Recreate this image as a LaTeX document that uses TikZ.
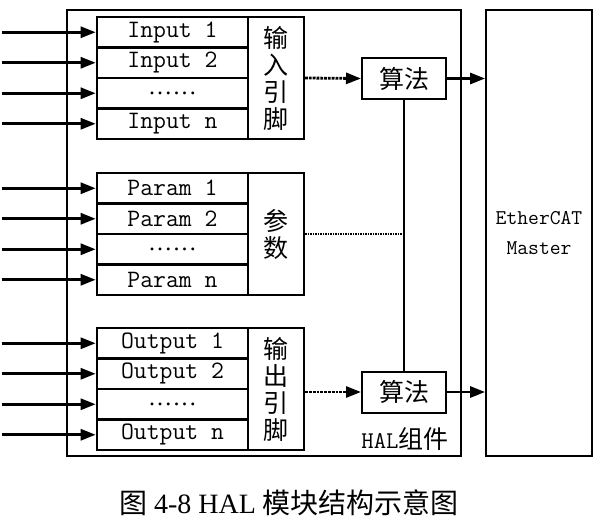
\documentclass[tikz,border=0pt]{standalone}
\usepackage{fontspec}
\setmainfont{Liberation Serif}
\newfontfamily\cjk{Noto Sans CJK SC}
\newfontfamily\dotfont[LetterSpace=9]{Liberation Serif}
\usetikzlibrary{arrows.meta}

\begin{document}
\begin{tikzpicture}[x=1pt,y=-1pt,
  row/.style={draw,line width=2.6pt,minimum width=151pt,minimum height=30.5pt,inner sep=0pt,font=\ttfamily\fontsize{25}{24}\selectfont},
  dots/.style={row,font=\dotfont\fontsize{24}{24}\selectfont},
  side/.style={draw,line width=2.2pt,minimum width=56pt,minimum height=122pt,inner sep=0pt,align=center,font=\cjk\fontsize{25}{27}\selectfont},
  alg/.style={draw,line width=2pt,minimum width=84pt,minimum height=41pt,inner sep=0pt,font=\cjk\fontsize{25}{27}\selectfont},
  pin/.style={line width=2.8pt,-{Triangle[length=15pt,width=11pt]}},
  link/.style={line width=2.8pt,densely dotted,-{Triangle[length=15pt,width=11pt]}}]
\useasboundingbox (0,0) rectangle (599,523);

\node [draw,line width=1.8pt,minimum width=394pt,minimum height=446pt] (hal) at (264,233) {};
\node [draw,line width=1.8pt,minimum width=106pt,minimum height=446pt,align=center,font=\ttfamily\fontsize{21}{30}\selectfont] (master) at (539,233) {EtherCAT\\Master};
\node [font=\fontsize{24}{24}\selectfont] (hallabel) at (405,439) {\ttfamily HAL\cjk\fontsize{25}{27}\selectfont 组件};

% input pins
\node [row] (in1) at (172.5,32.25) {Input 1};
\node [row] (in2) at (172.5,62.75) {Input 2};
\node [dots] (in3) at (172.5,93.25) {......};
\node [row] (in4) at (172.5,123.75) {Input n};
\node [side] (inside) at (276,78) {输\\入\\引\\脚};

% parameters
\node [row] (par1) at (172.5,188.25) {Param 1};
\node [row] (par2) at (172.5,218.75) {Param 2};
\node [dots] (par3) at (172.5,249.25) {......};
\node [row] (par4) at (172.5,279.75) {Param n};
\node [side] (parside) at (276,234) {参\\数};

% output pins
\node [row] (out1) at (172.5,343.25) {Output 1};
\node [row] (out2) at (172.5,373.75) {Output 2};
\node [dots] (out3) at (172.5,404.25) {......};
\node [row] (out4) at (172.5,434.75) {Output n};
\node [side] (outside) at (276,389) {输\\出\\引\\脚};

\node [alg] (alg1) at (404,78.5) {算法};
\node [alg] (alg2) at (404,392) {算法};

\draw [pin] ([xshift=-94pt]in1.west) -- (in1.west);
\draw [pin] ([xshift=-94pt]in2.west) -- (in2.west);
\draw [pin] ([xshift=-94pt]in3.west) -- (in3.west);
\draw [pin] ([xshift=-94pt]in4.west) -- (in4.west);
\draw [pin] ([xshift=-94pt]par1.west) -- (par1.west);
\draw [pin] ([xshift=-94pt]par2.west) -- (par2.west);
\draw [pin] ([xshift=-94pt]par3.west) -- (par3.west);
\draw [pin] ([xshift=-94pt]par4.west) -- (par4.west);
\draw [pin] ([xshift=-94pt]out1.west) -- (out1.west);
\draw [pin] ([xshift=-94pt]out2.west) -- (out2.west);
\draw [pin] ([xshift=-94pt]out3.west) -- (out3.west);
\draw [pin] ([xshift=-94pt]out4.west) -- (out4.west);

\draw [link] (inside.east) -- (alg1.west);
\draw [link] (outside.east |- alg2.west) -- (alg2.west);
\draw [line width=1.5pt] (alg1.south) -- (alg2.north);
\draw [line width=1.5pt,densely dotted] (parside.east) -- (parside.east -| alg1.south);
\draw [pin] (alg1.east) -- (alg1.east -| master.west);
\draw [pin] (alg2.east) -- (alg2.east -| master.west);

\node [font=\fontsize{28}{32}\selectfont] (caption) at (289,503) {{\cjk 图} 4-8 HAL {\cjk 模块结构示意图}};
\end{tikzpicture}
\end{document}
